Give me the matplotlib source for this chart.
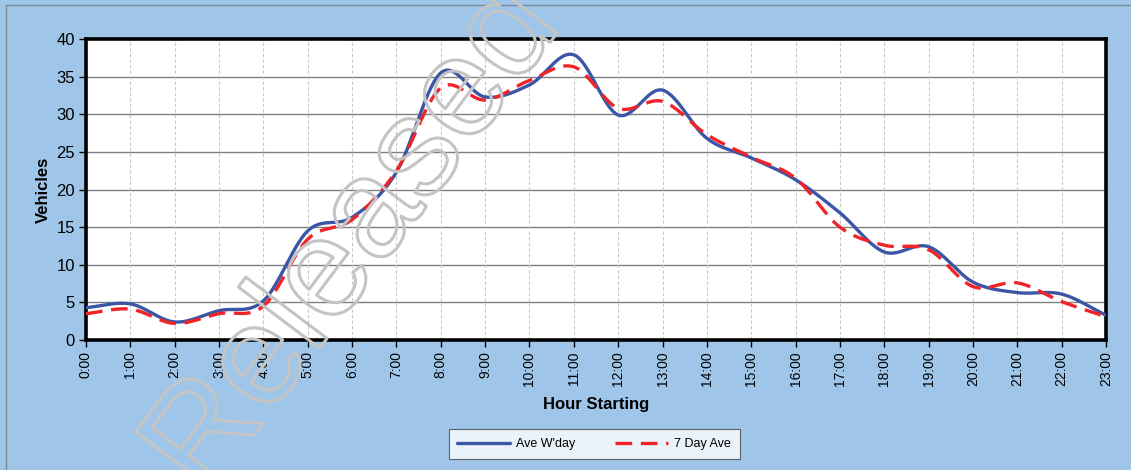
import numpy as np
import matplotlib
matplotlib.use('Agg')
import matplotlib.pyplot as plt
import matplotlib.patheffects as pe
from matplotlib.patches import Rectangle

#  Hourly counts
hours = ['%d:00' % h for h in range(24)]
ave_wday = [4.3, 4.8, 2.4, 3.9, 5.2, 14.5, 16.3, 22.3, 35.5, 32.3, 33.9, 37.9,
            29.9, 33.2, 26.8, 24.2, 21.3, 16.9, 11.7, 12.4, 7.7, 6.3, 6.1, 3.3]
seven_day = [3.5, 4.1, 2.2, 3.5, 4.5, 13.4, 16.0, 22.5, 33.5, 31.9, 34.5, 36.3,
             30.8, 31.7, 27.3, 24.3, 21.5, 15.0, 12.6, 12.0, 7.1, 7.6, 5.1, 3.1]
series_names = ["Ave W'day", '7 Day Ave']

BG = '#9fc6e9'


#  Catmull-Rom smoothing between the hourly points
def Smooth(values, steps=30):
    y = np.asarray(values, dtype=float)
    p = np.concatenate([[2 * y[0] - y[1]], y, [2 * y[-1] - y[-2]]])
    xs, ys = [], []
    t = np.linspace(0, 1, steps, endpoint=False)
    for i in range(len(y) - 1):
        p0, p1, p2, p3 = p[i], p[i + 1], p[i + 2], p[i + 3]
        seg = 0.5 * ((2 * p1) + (-p0 + p2) * t +
                     (2 * p0 - 5 * p1 + 4 * p2 - p3) * t ** 2 +
                     (-p0 + 3 * p1 - 3 * p2 + p3) * t ** 3)
        xs.append(i + t)
        ys.append(seg)
    xs.append([len(y) - 1])
    ys.append([y[-1]])
    return np.concatenate(xs), np.concatenate(ys)


fig = plt.figure(figsize=(11.31, 4.70), dpi=100)
fig.patch.set_facecolor(BG)

#  Outer chart frame
fig.patches.append(Rectangle((6 / 1131, -0.1), 1.2, 1 - 5 / 470 + 0.1,
                             transform=fig.transFigure, fill=False,
                             edgecolor='#7a8a99', linewidth=1.0))

ax = fig.add_axes([86 / 1131, 1 - 340 / 470, 1020 / 1131, 301 / 470])
ax.set_facecolor('white')

x = np.arange(len(hours))

#  Grid lines
for v in range(5, 40, 5):
    ax.axhline(v, color='#7f7f7f', linewidth=1.0, zorder=1)
for h in x[1:-1]:
    ax.axvline(h, color='#c8c8c8', linewidth=0.8, linestyle=(0, (3, 2)), zorder=1)

sx, sy = Smooth(ave_wday)
ax.plot(sx, sy, color='#3b56a5', linewidth=2.4, label=series_names[0], zorder=3,
        solid_capstyle='round')
sx, sy = Smooth(seven_day)
ax.plot(sx, sy, color='#f02428', linewidth=2.4, linestyle=(0, (5, 2.6)),
        label=series_names[1], zorder=4)

ax.set_xlim(0, 23)
ax.set_ylim(0, 40)
ax.set_yticks(range(0, 41, 5))
ax.set_xticks(x)
ax.set_xticklabels(hours, rotation=90, fontsize=10, family='Liberation Sans')
for lbl in ax.get_yticklabels():
    lbl.set_fontsize(12)
    lbl.set_family('Liberation Sans')
ax.tick_params(axis='both', direction='out', length=5, width=1, color='black', pad=3)

for spine in ax.spines.values():
    spine.set_linewidth(2.6)
    spine.set_color('black')

ax.set_xlabel('Hour Starting', fontsize=12, fontweight='bold',
              family='Liberation Sans', labelpad=8)
ax.set_ylabel('Vehicles', fontsize=12, fontweight='bold',
              family='Liberation Sans', labelpad=4)

leg = fig.legend(loc='center', bbox_to_anchor=(594 / 1131, 1 - 444 / 470),
                 ncol=2, frameon=True, fancybox=False,
                 prop={'family': 'Liberation Sans', 'size': 9},
                 handlelength=4.2, columnspacing=3.2, borderpad=0.7,
                 handletextpad=0.5)
leg.get_frame().set_edgecolor('#404040')
leg.get_frame().set_linewidth(0.8)
leg.get_frame().set_facecolor('white')

#  Watermark, outlined and running up across the chart
fig.text(206 / 1131, 1 - 499 / 470, 'Released', rotation=53,
         rotation_mode='anchor', fontsize=101, family='Liberation Sans',
         ha='left', va='baseline', color='none', zorder=10,
         path_effects=[pe.Stroke(linewidth=2.2, foreground='#c4c4c4')])

fig.savefig('out.png', dpi=100, facecolor=BG)
